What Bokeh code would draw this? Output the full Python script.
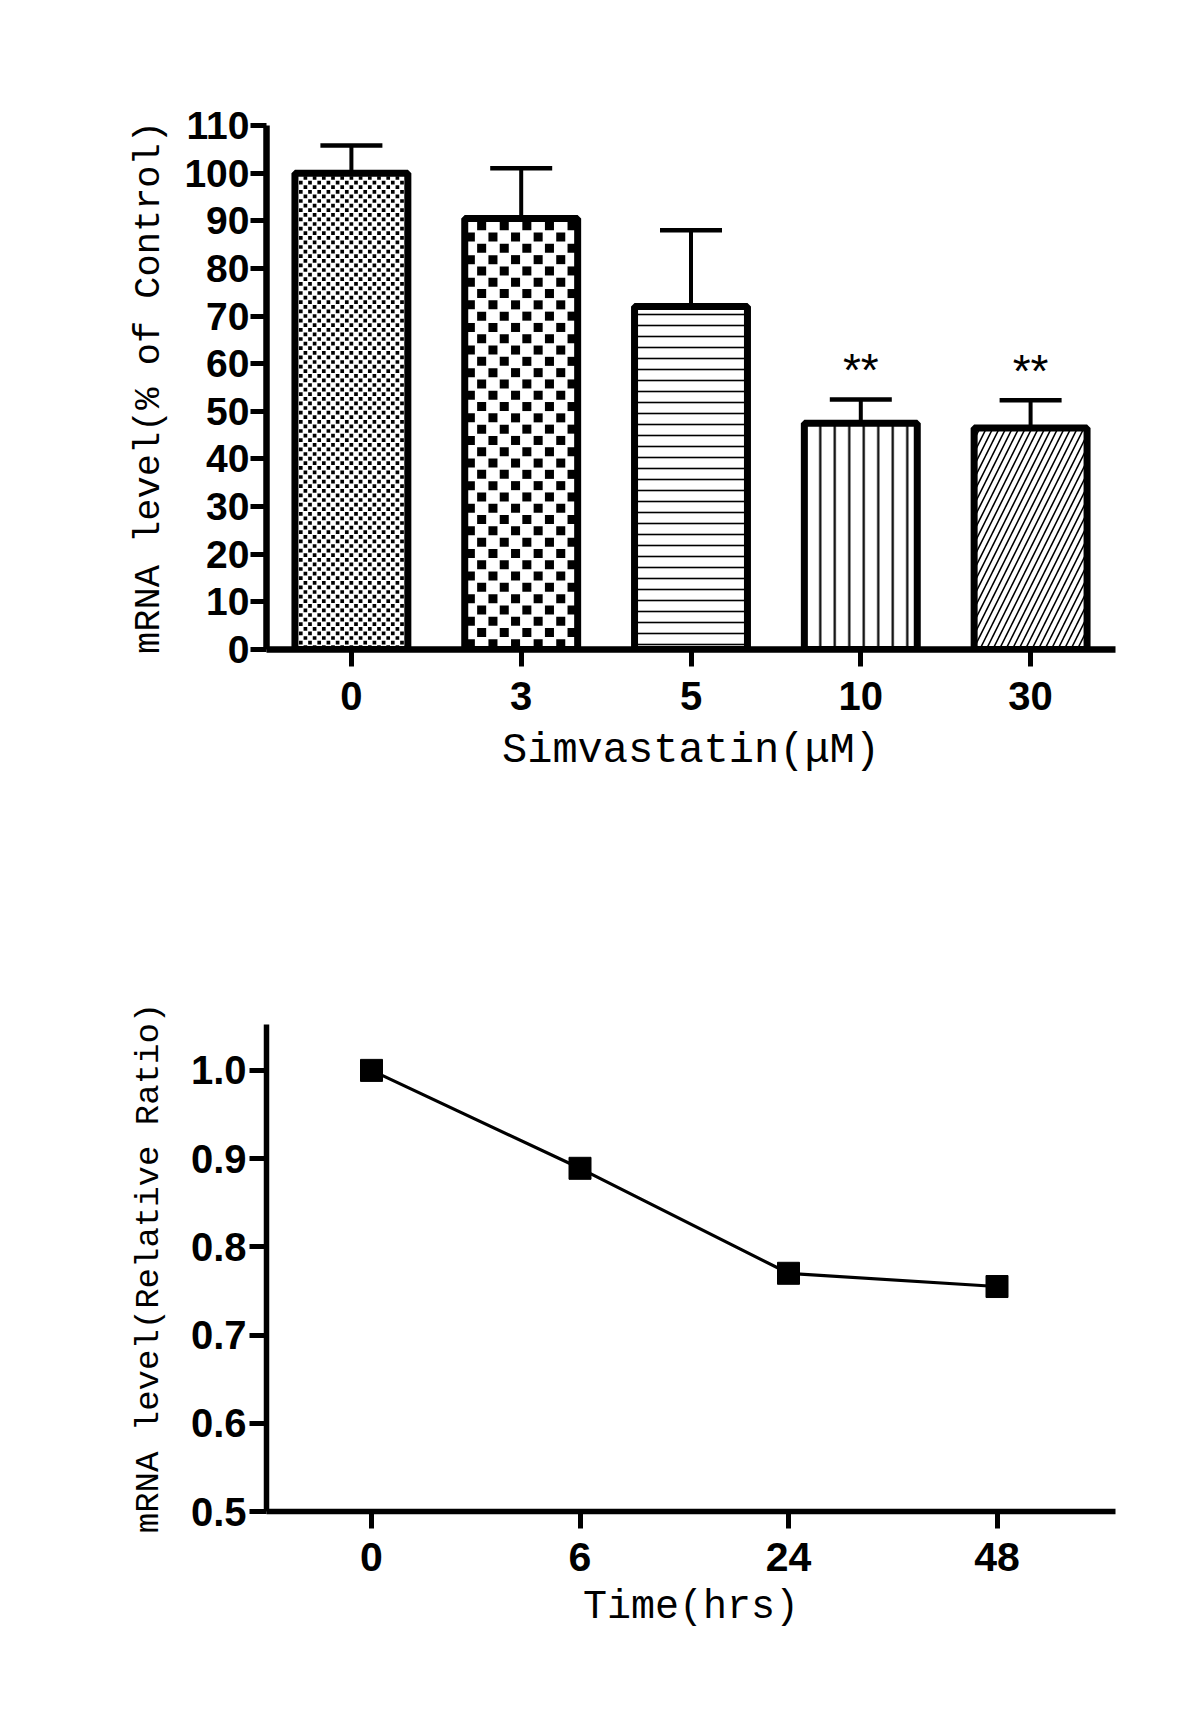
from bokeh.plotting import figure
from bokeh.layouts import column
from bokeh.models import (ColumnDataSource, FactorRange, Range1d, FixedTicker,
                          Whisker, TeeHead, PrintfTickFormatter)
from bokeh.core.properties import value
from bokeh.embed import file_html
from bokeh.resources import INLINE

# ---------------- data ----------------
doses = ["0", "3", "5", "10", "30"]
mrna_pct = [100.0, 90.5, 72.0, 47.5, 46.5]
mrna_sem = [5.8, 10.5, 16.0, 5.0, 5.8]
significance = ["", "", "", "**", "**"]
y_ticks_top = [0, 10, 20, 30, 40, 50, 60, 70, 80, 90, 100, 110]

times = ["0", "6", "24", "48"]
ratio = [1.0, 0.889, 0.770, 0.755]
y_ticks_bottom = [0.5, 0.6, 0.7, 0.8, 0.9, 1.0]

# ---------------- layout / styles ----------------
W = 1190
LEFT, RIGHT = 266, 75
FRAME_W = W - LEFT - RIGHT
H1, TOP1, BOT1 = 830, 125, 181
FRAME_H1 = H1 - TOP1 - BOT1
H2, TOP2, BOT2 = 880, 194, 199
BAR_W = 0.665
Y1_MAX = 110

bar_patterns = ["blank", "blank", "horizontal_line", "vertical_line", "right_diagonal_line"]
bar_hatch_scale = [10, 10, 11, 14.5, 13]
bar_hatch_weight = [1, 1, 1.6, 2.2, 1.6]
checker_cell_px = {0: 4.6, 1: 11.3}   # bar index -> checker cell size (px)

TICK_FONT = "Liberation Sans"
TITLE_FONT = "Liberation Mono"


def style_axis(ax, label_size, title_size, line_w=6.5, tick_out=17):
    ax.axis_line_width = line_w
    ax.axis_line_color = "black"
    ax.major_tick_line_width = 5
    ax.major_tick_line_color = "black"
    ax.major_tick_out = tick_out
    ax.major_tick_in = 0
    ax.minor_tick_line_color = None
    ax.major_label_text_font = TICK_FONT
    ax.major_label_text_font_style = "bold"
    ax.major_label_text_font_size = label_size
    ax.major_label_text_color = "black"
    ax.axis_label_text_font = TITLE_FONT
    ax.axis_label_text_font_style = "normal"
    ax.axis_label_text_font_size = title_size
    ax.axis_label_text_color = "black"


# ---------------- top chart ----------------
upper = [m + s for m, s in zip(mrna_pct, mrna_sem)]
src1 = ColumnDataSource(dict(dose=doses, pct=mrna_pct, upper=upper, sig=significance,
                             hatch=bar_patterns, hscale=bar_hatch_scale, hweight=bar_hatch_weight))

p1 = figure(width=W, height=H1,
            x_range=FactorRange(factors=doses, range_padding=0),
            y_range=Range1d(0, Y1_MAX),
            output_backend="svg", toolbar_location=None,
            min_border_left=LEFT, min_border_right=RIGHT,
            min_border_top=TOP1, min_border_bottom=BOT1)
p1.grid.visible = False
p1.outline_line_color = None

# bar fills (white + line hatches)
p1.vbar(x="dose", top="pct", width=BAR_W, source=src1,
        fill_color="white", line_color=None,
        hatch_pattern="hatch", hatch_scale="hscale", hatch_weight="hweight",
        hatch_color="black")

# checkerboard fills, built from each bar's value
px_per_cat = FRAME_W / len(doses)
px_per_unit = FRAME_H1 / Y1_MAX
cx, cy, csize = [], [], []
for i, cell in checker_cell_px.items():
    half_px = BAR_W / 2 * px_per_cat
    top_px = mrna_pct[i] * px_per_unit
    sq = cell * 0.8
    ncol = int(2 * half_px // cell) + 1
    x0 = -ncol * cell / 2
    r = 0
    while (r + 0.5) * cell + sq / 2 <= top_px + 1:
        for k in range(ncol):
            if (r + k) % 2 == 0:
                xc = x0 + (k + 0.5) * cell
                if abs(xc) + sq / 2 <= half_px + 2:
                    cx.append((doses[i], xc / px_per_cat))
                    cy.append((r + 0.5) * cell / px_per_unit)
                    csize.append(sq)
        r += 1
p1.scatter(x=cx, y=cy, size=csize, marker="square", fill_color="black", line_color=None)

# bar outlines
p1.vbar(x="dose", top="pct", width=BAR_W, source=src1,
        fill_color=None, line_color="black", line_width=7)

whisk = Whisker(base="dose", upper="upper", lower="pct", source=src1,
                line_width=4, line_color="black",
                upper_head=TeeHead(size=62, line_width=4.5, line_color="black"),
                lower_head=None, level="glyph")
p1.add_layout(whisk)

p1.text(x="dose", y="upper", text="sig", source=src1,
        text_align="center", text_baseline="middle", y_offset=-29,
        text_font=value("Liberation Sans"), text_font_size="46px", text_color="black")

p1.yaxis.ticker = FixedTicker(ticks=y_ticks_top)
p1.xaxis.axis_label = "Simvastatin(μM)"
p1.yaxis.axis_label = "mRNA level(% of Control)"
style_axis(p1.xaxis[0], "40px", "42px")
style_axis(p1.yaxis[0], "39px", "37px", tick_out=16)
p1.xaxis.major_label_standoff = 15
p1.yaxis.major_label_standoff = 1
p1.xaxis.axis_label_standoff = 14
p1.yaxis.axis_label_standoff = 11

# ---------------- bottom chart ----------------
x_pos = list(range(len(times)))
src2 = ColumnDataSource(dict(x=x_pos, ratio=ratio))
cat_px = 208.5
x_start = -(373 - (LEFT + 2)) / cat_px
p2 = figure(width=W, height=H2,
            x_range=Range1d(x_start, x_start + FRAME_W / cat_px),
            y_range=Range1d(0.5, 1.052),
            output_backend="svg", toolbar_location=None,
            min_border_left=LEFT, min_border_right=RIGHT,
            min_border_top=TOP2, min_border_bottom=BOT2)
p2.grid.visible = False
p2.outline_line_color = None

p2.line(x="x", y="ratio", source=src2, line_width=3.2, line_color="black")
p2.scatter(x="x", y="ratio", source=src2, marker="square", size=22,
           fill_color="black", line_color="black")

p2.xaxis.ticker = FixedTicker(ticks=x_pos)
p2.xaxis.major_label_overrides = {i: t for i, t in zip(x_pos, times)}
p2.yaxis.ticker = FixedTicker(ticks=y_ticks_bottom)
p2.yaxis.formatter = PrintfTickFormatter(format="%.1f")
p2.xaxis.axis_label = "Time(hrs)"
p2.yaxis.axis_label = "mRNA level(Relative Ratio)"
style_axis(p2.xaxis[0], "41px", "40px", line_w=5.5)
style_axis(p2.yaxis[0], "40px", "34px", line_w=5.5)
p2.xaxis.major_label_standoff = 14
p2.yaxis.major_label_standoff = 3
p2.xaxis.axis_label_standoff = 11
p2.yaxis.axis_label_standoff = 20

layout = column(p1, p2, spacing=0)
open("out.html", "w").write(file_html(layout, INLINE))
